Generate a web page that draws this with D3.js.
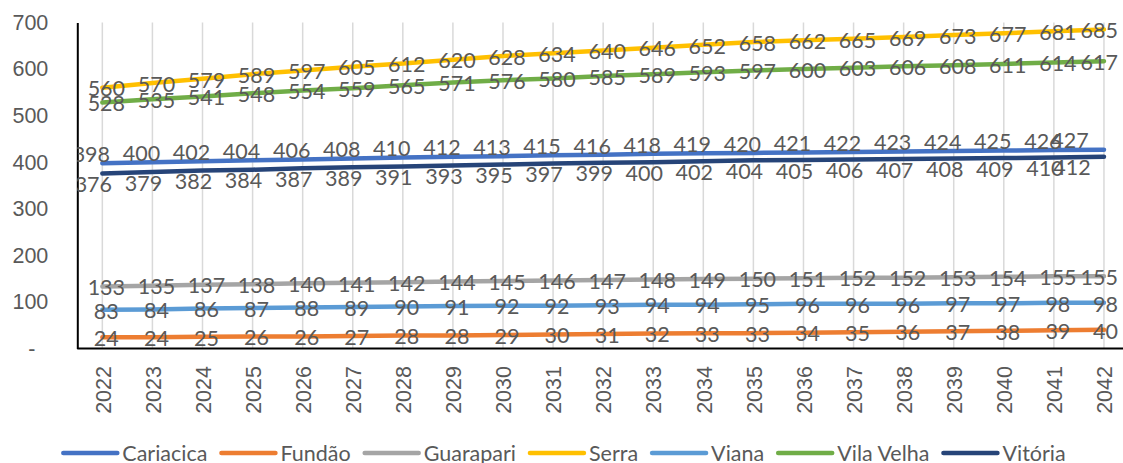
<!DOCTYPE html>
<html>
<head>
<meta charset="utf-8">
<script src="https://cdn.jsdelivr.net/npm/d3@7"></script>
<style>
  body { margin: 0; background: #fff; }
  svg { display: block; font-family: Lato, "Open Sans", sans-serif; }
  .tick text, .label, .legend text { fill: #595959; font-size: 21.5px; }
</style>
</head>
<body>
<div id="chart"></div>
<script>
// data
const years = ["2022","2023","2024","2025","2026","2027","2028","2029","2030","2031","2032",
               "2033","2034","2035","2036","2037","2038","2039","2040","2041","2042"];
const cariacica = [398,400,402,404,406,408,410,412,413,415,416,418,419,420,421,422,423,424,425,426,427];
const fundao    = [24,24,25,26,26,27,28,28,29,30,31,32,33,33,34,35,36,37,38,39,40];
const guarapari = [133,135,137,138,140,141,142,144,145,146,147,148,149,150,151,152,152,153,154,155,155];
const serra     = [560,570,579,589,597,605,612,620,628,634,640,646,652,658,662,665,669,673,677,681,685];
const viana     = [83,84,86,87,88,89,90,91,92,92,93,94,94,95,96,96,96,97,97,98,98];
const vilaVelha = [528,535,541,548,554,559,565,571,576,580,585,589,593,597,600,603,606,608,611,614,617];
const vitoria   = [376,379,382,384,387,389,391,393,395,397,399,400,402,404,405,406,407,408,409,410,412];
const yTicks = [0,100,200,300,400,500,600,700];
const yTickLabels = ["-","100","200","300","400","500","600","700"];

const series = [
  { name: "Cariacica",  values: cariacica, color: "#4472C4", pos: "above" },
  { name: "Fundão",     values: fundao,    color: "#ED7D31", pos: "center" },
  { name: "Guarapari",  values: guarapari, color: "#A5A5A5", pos: "center" },
  { name: "Serra",      values: serra,     color: "#FFC000", pos: "center" },
  { name: "Viana",      values: viana,     color: "#5B9BD5", pos: "center" },
  { name: "Vila Velha", values: vilaVelha, color: "#70AD47", pos: "center" },
  { name: "Vitória",    values: vitoria,   color: "#264478", pos: "below" }
];

const W = 1123, H = 463;
const plot = { left: 77.3, right: 1129, top: 22.5, bottom: 348.5 };

const svg = d3.select("#chart").append("svg")
  .attr("width", W)
  .attr("height", H);

const x = d3.scalePoint().domain(years).range([plot.left, plot.right]).padding(0.5);
const y = d3.scaleLinear().domain([0, 700]).range([plot.bottom, plot.top]);

svg.append("defs").append("clipPath").attr("id", "plotclip")
  .append("rect")
  .attr("x", plot.left).attr("y", 0)
  .attr("width", plot.right - plot.left).attr("height", H);

// vertical gridlines at each year
svg.append("g")
  .selectAll("line")
  .data(years)
  .join("line")
  .attr("x1", d => x(d)).attr("x2", d => x(d))
  .attr("y1", plot.top).attr("y2", plot.bottom)
  .attr("stroke", "#D9D9D9")
  .attr("stroke-width", 1.5);

// y axis
const yAxis = svg.append("g")
  .attr("transform", "translate(" + plot.left + ",0)")
  .call(d3.axisLeft(y).tickValues(yTicks).tickSize(0).tickPadding(29)
    .tickFormat((d, i) => yTickLabels[i]));
yAxis.select(".domain").attr("stroke", "#000").attr("stroke-width", 2);
yAxis.selectAll(".tick text")
  .attr("font-family", null).attr("font-size", null)
  .attr("dx", d => d === 0 ? -13 : 0);

// x axis with rotated year labels
const xAxis = svg.append("g")
  .attr("transform", "translate(0," + plot.bottom + ")")
  .call(d3.axisBottom(x).tickSize(0).tickPadding(0));
xAxis.select(".domain").attr("stroke", "#000").attr("stroke-width", 2)
  .attr("d", "M" + plot.left + ",0H" + plot.right);
xAxis.selectAll(".tick text")
  .attr("font-family", null).attr("font-size", null)
  .attr("transform", "rotate(-90)")
  .attr("text-anchor", "end")
  .attr("x", -17.5)
  .attr("y", 0)
  .attr("dy", "0.36em");

// lines
const line = d3.line()
  .x((d, i) => x(years[i]))
  .y(d => y(d));

svg.append("g")
  .selectAll("path")
  .data(series)
  .join("path")
  .attr("fill", "none")
  .attr("stroke", d => d.color)
  .attr("stroke-width", 4.5)
  .attr("stroke-linejoin", "round")
  .attr("stroke-linecap", "round")
  .attr("d", d => line(d.values));

// data labels (kept inside the visible area on the right, like Excel does)
const labels = svg.append("g").attr("clip-path", "url(#plotclip)");
const last = years.length - 1;
series.forEach(s => {
  labels.append("g")
    .selectAll("text")
    .data(s.values)
    .join("text")
    .attr("class", "label")
    .attr("text-anchor", "middle")
    .attr("y", d => {
      if (s.pos === "above") return y(d) - 9;
      if (s.pos === "below") return y(d) + 11;
      return y(d) + 1;
    })
    .attr("dy", "0.36em")
    .text(d => d)
    .each(function(d, i) {
      let dx = 4;
      if (s.pos === "above") dx = i === last ? -34 : -11;
      if (s.pos === "below") dx = i === last ? -32 : -9;
      let cx = x(years[i]) + dx;
      const half = this.getComputedTextLength() / 2;
      if (cx + half > W - 5) cx = W - 5 - half;
      d3.select(this).attr("x", cx);
    });
});

// legend, centred under the chart
const legend = svg.append("g").attr("class", "legend");
const items = legend.selectAll("g")
  .data(series)
  .join("g");
items.append("line")
  .attr("x1", 0).attr("x2", 54)
  .attr("stroke", d => d.color)
  .attr("stroke-width", 4.5)
  .attr("stroke-linecap", "round");
items.append("text")
  .attr("x", 59)
  .attr("dy", "0.36em")
  .text(d => d.name);

let offset = 0;
items.each(function() {
  const w = 59 + this.querySelector("text").getComputedTextLength();
  d3.select(this).attr("transform", "translate(" + offset + ",0)");
  offset += w + 14;
});
offset -= 14;
legend.attr("transform", "translate(" + (W / 2 + 3 - offset / 2) + ",453)");
</script>
</body>
</html>
